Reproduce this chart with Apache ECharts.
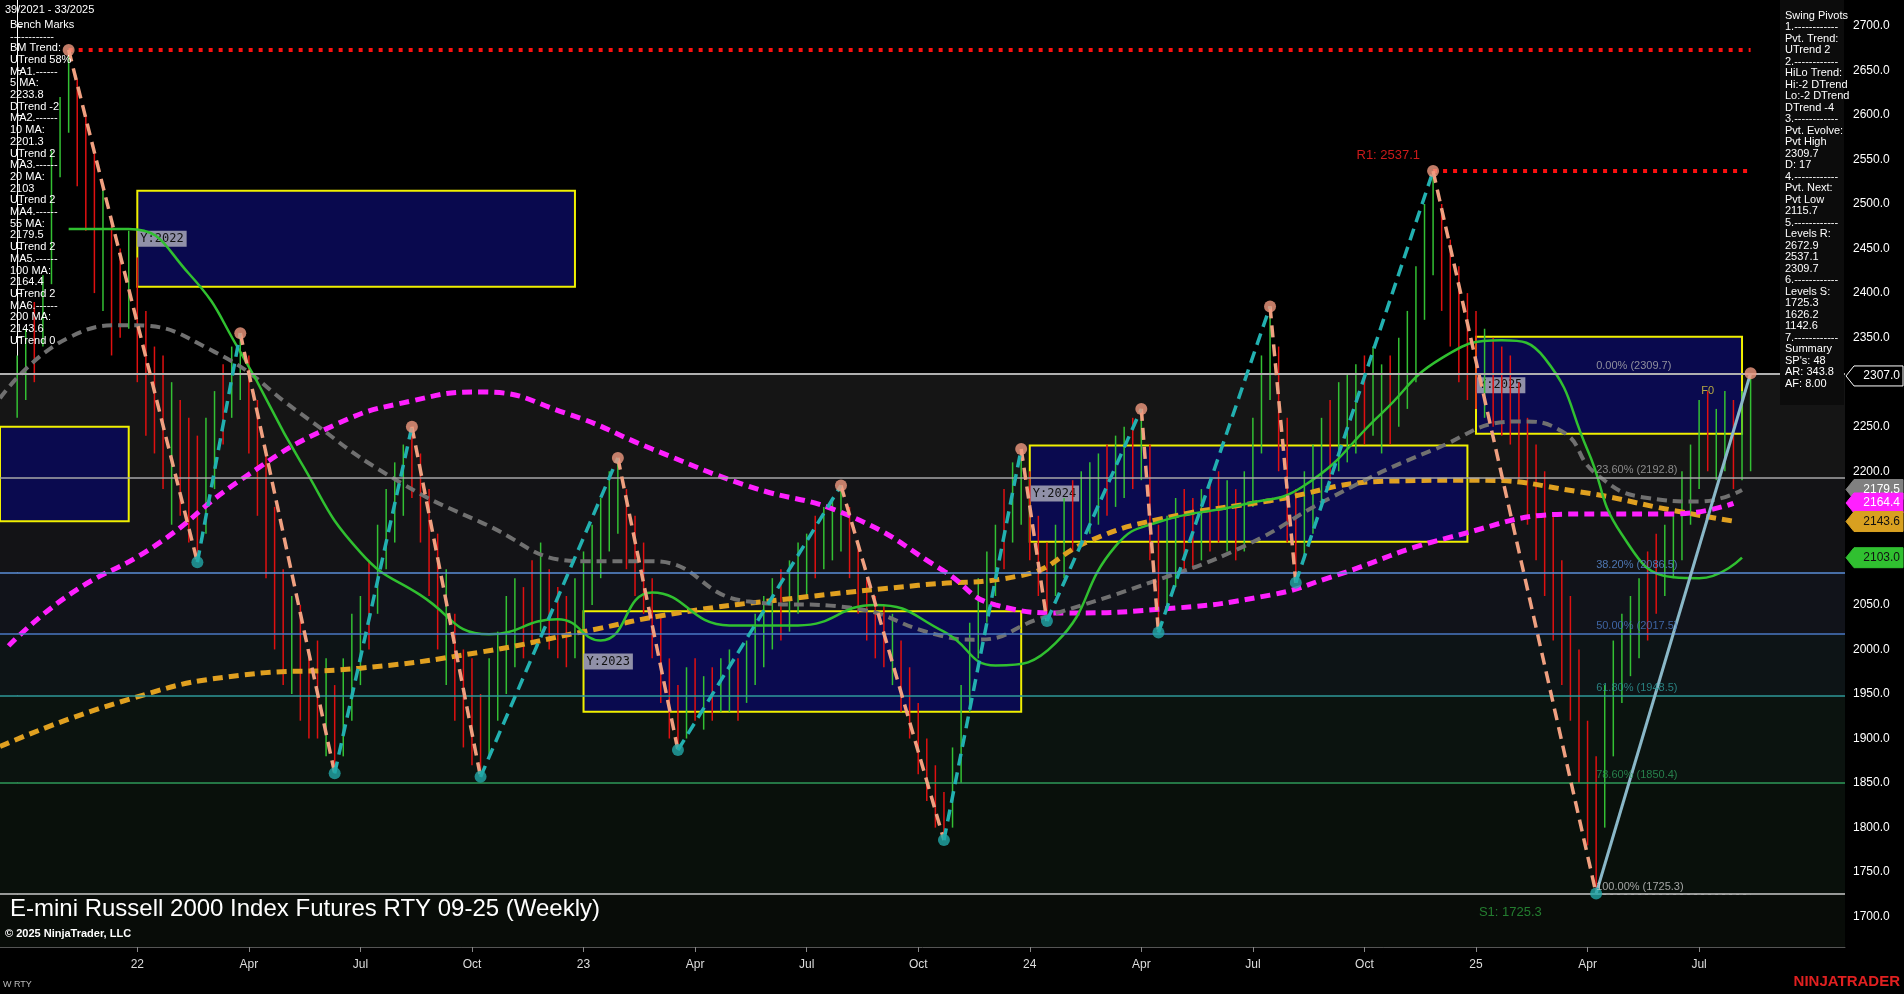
<!DOCTYPE html>
<html><head><meta charset="utf-8">
<script src="https://cdn.jsdelivr.net/npm/echarts@6/dist/echarts.min.js"></script>
<style>html,body{margin:0;background:#000;}#c{width:1904px;height:994px;}</style>
</head><body><div id="c"></div>
<script>
// weekly bars, index 0 = week 39/2021
var highs = [2330,2360,2390,2420,2560,2620,2673,2640,2600,2560,2520,2480,2450,2470,2440,2380,2340,2330,2300,2280,2260,2240,
  2260,2290,2320,2340,2355,2330,2280,2220,2160,2090,2060,2050,2000,2010,1990,1960,
  1990,2040,2060,2100,2140,2180,2210,2230,2250,2220,2180,2130,2090,2040,2000,1990,1950,
  1990,2020,2060,2080,2070,2100,2120,2090,2070,2060,2080,2110,2140,2170,2200,2215,
  2180,2150,2120,2080,2040,1990,1960,
  1980,1990,1970,1980,1990,2000,1990,2010,2040,2060,2080,2090,2100,2120,2130,2150,2160,2170,2184,
  2160,2120,2080,2060,2050,2040,2010,1980,1940,1900,1870,1840,
  1890,1960,2030,2080,2110,2140,2180,2210,2225,2200,2150,2120,
  2140,2170,2190,2200,2210,2220,2230,2240,2250,2260,2270,2230,2140,
  2150,2170,2180,2170,2180,2190,2200,2190,2180,2200,2260,2330,2385,2340,2260,2180,
  2200,2230,2260,2280,2300,2310,2320,2330,2340,2320,2330,2350,2380,2430,2500,2537,
  2500,2460,2430,2400,2380,2360,2350,2340,2330,2300,2260,2230,2200,2150,2100,2060,2000,1920,1880,
  1960,2010,2040,2060,2080,2110,2130,2140,2150,2200,2230,2280,2290,2270,2290,2280,2290,2310];
var lows = [2260,2280,2300,2340,2410,2530,2580,2520,2470,2400,2380,2330,2350,2360,2300,2240,2220,2180,2140,2150,2120,2098,
  2130,2180,2230,2260,2280,2220,2150,2080,2000,1960,1950,1920,1900,1900,1880,1861,
  1880,1920,1960,2000,2040,2090,2120,2150,2170,2120,2060,2000,1960,1920,1890,1870,1857,
  1880,1920,1950,1980,1990,2010,2020,2000,1990,1980,1990,2020,2050,2080,2110,2130,
  2090,2060,2040,1990,1940,1900,1887,
  1900,1920,1910,1920,1930,1930,1920,1940,1960,1980,2000,2010,2020,2040,2060,2080,2090,2100,2110,
  2080,2040,2010,1990,1980,1960,1930,1900,1860,1830,1800,1786,
  1800,1850,1930,1990,2030,2060,2090,2120,2140,2100,2060,2032,
  2060,2080,2110,2120,2130,2140,2150,2160,2170,2180,2190,2100,2019,
  2050,2070,2090,2090,2100,2110,2120,2110,2100,2110,2160,2220,2280,2200,2120,2075,
  2100,2130,2160,2190,2200,2210,2220,2230,2240,2220,2230,2250,2270,2300,2370,2420,
  2380,2340,2300,2280,2270,2260,2250,2240,2230,2190,2140,2100,2060,2010,1960,1920,1850,1780,1726,
  1800,1880,1940,1970,1990,2010,2040,2060,2080,2100,2140,2180,2200,2190,2200,2180,2190,2200];
var barDir = ["uuduuuu","ddduddudddduddd","uuduu","dddddudddud","uuuduuuud","dddudddd","uuuudduddduuuuuu",
  "ddddddd","ududuuduuuuduuuduuu","dddddudddddd","uuuuuuduu","ddd","uuduuuduudu","dd","uuddudduduuuu",
  "ddd","uuuduuuduuduuuuu","ddddduddddddddddddd","uuuuudduuuuuduuduu"].join('');

// swing pivots [week, price, 'H'/'L']
var pivots = [[6,2673,'H'],[21,2098,'L'],[26,2355,'H'],[37,1861,'L'],[46,2250,'H'],[54,1857,'L'],[70,2215,'H'],
  [77,1887,'L'],[96,2184,'H'],[108,1786,'L'],[117,2225,'H'],[120,2032,'L'],[131,2270,'H'],[133,2019,'L'],
  [146,2385,'H'],[149,2075,'L'],[165,2537,'H'],[184,1726,'L'],[202,2310,'H']];

// moving averages read at sample weeks
var ma200 = [[-2,1891],[12,1941],[26,1971],[40,1979],[54,1997],[66,2020],[77,2041],[91,2058],[105,2072],[117,2083],
  [125,2122],[133,2146],[146,2167],[160,2189],[170,2190],[182,2177],[193,2156],[200,2144]];
var ma100 = [[-1,2004],[6,2061],[16,2116],[26,2190],[37,2252],[46,2279],[54,2289],[64,2265],[74,2225],[85,2184],
  [97,2150],[108,2088],[114,2050],[122,2041],[133,2045],[146,2061],[153,2081],[167,2126],[182,2152],[193,2152],[200,2164]];
var ma55 = [[-2,2282],[6,2350],[13,2364],[23,2334],[33,2265],[43,2197],[54,2143],[66,2099],[74,2099],[85,2054],
  [97,2047],[107,2017],[112,2011],[119,2034],[132,2075],[143,2116],[153,2170],[165,2224],[175,2256],[180,2245],
  [184,2197],[190,2170],[196,2166],[201,2179]];
var ma20 = [[6,2472],[13,2472],[20,2422],[26,2334],[33,2211],[40,2109],[47,2061],[55,2017],[63,2034],[68,2010],
  [74,2064],[83,2027],[91,2027],[100,2050],[108,2020],[114,1982],[121,2007],[128,2116],[133,2143],[143,2163],
  [150,2184],[159,2265],[166,2327],[173,2347],[178,2327],[183,2224],[187,2129],[193,2081],[196,2080],[201,2103]];

var fibLevels = [2309.7,2192.8,2086.5,2017.5,1948.5,1850.4,1725.3];
var fibNames = ['0.00%','23.60%','38.20%','50.00%','61.80%','78.60%','100.00%'];
var fibColors = ['#b0b0b0','#a8a8a8','#5b8fd8','#4a78c4','#2f9a9a','#2e9a5a','#c8c8c8'];
var bandColors = ['#151515','#131316','#11131a','#0d1416','#0b130f','#09100b'];

// yearly boxes [startWeek, endWeek, top, bottom, label]
var boxes = [[-2,13,2250,2144,''],[14,65,2515,2407,'Y:2022'],[66,117,2043,1930,'Y:2023'],
  [118,169,2229,2121,'Y:2024'],[170,201,2351,2242,'Y:2025']];

var tickWeeks = [14,27,40,53,66,79,92,105,118,131,144,157,170,183,196];
var tickNames = ['22','Apr','Jul','Oct','23','Apr','Jul','Oct','24','Apr','Jul','Oct','25','Apr','Jul'];
var priceTicks = [1700,1750,1800,1850,1900,1950,2000,2050,2100,2150,2200,2250,2300,2350,2400,2450,2500,2550,2600,2650,2700];

var chart = echarts.init(document.getElementById('c'));
var FONT = 'Liberation Sans';

var barData = highs.map(function (h, i) { return [i, h, lows[i], barDir[i] === 'u' ? 1 : 0]; });
var upLegs = [], downLegs = [];
for (var i = 0; i < pivots.length - 2; i++) {
  var a = pivots[i], b = pivots[i + 1];
  var tgt = a[2] === 'H' ? downLegs : upLegs;
  tgt.push([a[0], a[1]], [b[0], b[1]], '-');
}
var lastA = pivots[pivots.length - 2], lastB = pivots[pivots.length - 1];

var bands = [];
for (var k = 0; k < fibLevels.length - 1; k++) {
  bands.push([{ yAxis: fibLevels[k], itemStyle: { color: bandColors[k] } }, { yAxis: fibLevels[k + 1] }]);
}
bands.push([{ yAxis: 1725.3, itemStyle: { color: '#080c08' } }, { yAxis: 1660 }]);

function maSeries(data, color, dashed, w) {
  return { type: 'line', data: data, smooth: 0.5, symbol: 'none', z: 4,
    lineStyle: { color: color, width: w, type: dashed ? [10, 6] : 'solid' } };
}

chart.setOption({
  backgroundColor: '#000',
  animation: false,
  grid: { left: 0, right: 59, top: 0, bottom: 47 },
  xAxis: { type: 'value', min: -2, max: 213,
    axisLine: { show: true, lineStyle: { color: '#555' } },
    splitLine: { show: false },
    axisTick: { show: true, customValues: tickWeeks, lineStyle: { color: '#888' } },
    axisLabel: { customValues: tickWeeks, color: '#ddd', fontFamily: FONT, fontSize: 12, margin: 12,
      formatter: function (v) { var j = tickWeeks.indexOf(v); return j >= 0 ? tickNames[j] : ''; } } },
  yAxis: { type: 'value', position: 'right', min: 1666, max: 2729,
    axisLine: { show: true, lineStyle: { color: '#fff' } },
    splitLine: { show: false },
    axisTick: { show: true, customValues: priceTicks, length: 5, lineStyle: { color: '#fff' } },
    axisLabel: { customValues: priceTicks, color: '#fff', fontFamily: FONT, fontSize: 12, margin: 8,
      formatter: function (v) { return v.toFixed(1); } } },
  series: [
    { type: 'line', data: [], z: 0, silent: true,
      markArea: { silent: true, data: bands } },
    { type: 'line', data: [], z: 1, silent: true,
      markArea: { silent: true,
        data: boxes.map(function (b) {
          return [{ coord: [b[0], b[2]], name: b[4],
            itemStyle: { color: 'rgba(10,10,85,0.92)', borderColor: '#f0f000', borderWidth: 2 },
            label: { show: !!b[4], position: 'insideLeft', offset: [-4, 0], color: '#111', fontFamily: 'DejaVu Sans Mono',
              fontSize: 12, backgroundColor: '#9090a8', padding: [2, 3] } },
            { coord: [b[1], b[3]] }];
        }) },
      markLine: { silent: true, symbol: 'none', label: { show: false },
        data: fibLevels.map(function (v, j) {
          return { yAxis: v, lineStyle: { color: fibColors[j], width: j === 0 ? 2 : 1.5, type: 'solid' } };
        }) } },
    { type: 'custom', data: barData, z: 3,
      renderItem: function (params, api) {
        var p1 = api.coord([api.value(0), api.value(1)]);
        var p2 = api.coord([api.value(0), api.value(2)]);
        return { type: 'line', shape: { x1: p1[0], y1: p1[1], x2: p2[0], y2: p2[1] },
          style: { stroke: api.value(3) ? '#33c033' : '#e01010', lineWidth: 1.5 } };
      } },
    maSeries(ma200, '#e0a020', true, 5),
    maSeries(ma100, '#ff20ff', true, 5),
    maSeries(ma55, '#707070', true, 4),
    maSeries(ma20, '#30c030', false, 2.5),
    { type: 'line', data: downLegs, symbol: 'none', z: 5, connectNulls: false,
      lineStyle: { color: '#f0a080', width: 3.5, type: [12, 7] } },
    { type: 'line', data: upLegs, symbol: 'none', z: 5, connectNulls: false,
      lineStyle: { color: '#22b0b0', width: 3.5, type: [12, 7] } },
    { type: 'line', data: [[lastA[0], lastA[1]], [lastB[0], lastB[1]]], symbol: 'none', z: 5,
      lineStyle: { color: '#8ab8c8', width: 3 } },
    { type: 'scatter', z: 6, symbolSize: 12,
      data: pivots.map(function (p) {
        return { value: [p[0], p[1]], itemStyle: { color: p[2] === 'H' ? '#f09a80' : '#22a8a8' } };
      }) },
    { type: 'line', data: [], z: 4, silent: true,
      markLine: { silent: true, symbol: 'none',
        data: [
          [{ coord: [6, 2672.9], lineStyle: { color: '#ff1010', width: 4, type: [4, 6] } }, { coord: [202, 2672.9] }],
          [{ coord: [165, 2537.1], lineStyle: { color: '#ff1010', width: 4, type: [4, 6] } }, { coord: [202, 2537.1] }],
          [{ coord: [184, 1725.3], lineStyle: { color: '#aaa', width: 1, type: [3, 4] } }, { coord: [202, 1725.3] }]
        ], label: { show: false } } },
    { type: 'scatter', z: 7, symbolSize: 0, silent: true,
      data: fibLevels.map(function (v, j) {
        return { value: [184, v], label: { show: true, position: 'top', distance: 2, align: 'left',
          formatter: fibNames[j] + ' (' + v.toFixed(1) + ')', color: fibColors[j], fontFamily: FONT, fontSize: 11 } };
      }).concat([
        { value: [165, 2537.1], label: { show: true, position: 'left', offset: [-8, -16], formatter: 'R1: 2537.1',
          color: '#ff2020', fontFamily: FONT, fontSize: 13 } },
        { value: [174, 1725.3], label: { show: true, position: 'bottom', distance: 12, formatter: 'S1: 1725.3',
          color: '#2a9a3a', fontFamily: FONT, fontSize: 13 } },
        { value: [197, 2290], label: { show: true, position: 'inside', formatter: 'F0',
          color: '#e0d040', fontFamily: FONT, fontSize: 11 } }
      ]) }
  ]
});

var benchText = ['Bench Marks','------------','BM Trend:','UTrend 58%','MA1.------','5 MA:','2233.8','DTrend -2',
  'MA2.------','10 MA:','2201.3','UTrend 2','MA3.------','20 MA:','2103','UTrend 2','MA4.------','55 MA:','2179.5',
  'UTrend 2','MA5.------','100 MA:','2164.4','UTrend 2','MA6.------','200 MA:','2143.6','UTrend 0'];
var swingText = ['Swing Pivots','1.------------','Pvt. Trend:','UTrend 2','2.------------','HiLo Trend:','Hi:-2 DTrend',
  'Lo:-2 DTrend','DTrend -4','3.------------','Pvt. Evolve:','Pvt High','2309.7','D: 17','4.------------','Pvt. Next:',
  'Pvt Low','2115.7','5.------------','Levels R:','2672.9','2537.1','2309.7','6.------------','Levels S:','1725.3',
  '1626.2','1142.6','7.------------','Summary',"SP's: 48",'AR: 343.8','AF: 8.00'];
var tags = [[2307.0,'#000','#fff','#fff'],[2179.5,'#808080','#fff','#808080'],[2164.4,'#ff20ff','#fff','#ff20ff'],
  [2143.6,'#d8a020','#111','#d8a020'],[2103.0,'#30c030','#111','#30c030']];

var gx = chart.convertToPixel({ gridIndex: 0 }, [213, 2000])[0];
var g = [
  { type: 'rect', shape: { x: 1780, y: 0, width: gx - 1781, height: 405 }, style: { fill: '#0c0c0c' }, z: 10 },
  { type: 'text', x: 5, y: 4, style: { text: '39/2021 - 33/2025', fill: '#fff', font: '11px ' + FONT }, z: 11 },
  { type: 'text', x: 10, y: 19, style: { text: benchText.join('\n'), fill: '#fff', font: '11px ' + FONT, lineHeight: 11.7 }, z: 11 },
  { type: 'text', x: 1785, y: 10, style: { text: swingText.join('\n'), fill: '#fff', font: '11px ' + FONT, lineHeight: 11.5 }, z: 11 },
  { type: 'text', x: 10, y: 897, style: { text: 'E-mini Russell 2000 Index Futures RTY 09-25 (Weekly)', fill: '#fff', font: '24px ' + FONT }, z: 11 },
  { type: 'text', x: 5, y: 928, style: { text: '\u00a9 2025 NinjaTrader, LLC', fill: '#fff', font: 'bold 11px ' + FONT }, z: 11 },
  { type: 'text', x: 3, y: 980, style: { text: 'W RTY', fill: '#bbb', font: '9px ' + FONT }, z: 11 },
  { type: 'text', x: 1900, y: 974, style: { text: 'NINJATRADER', fill: '#e02020', font: 'bold 15px ' + FONT, align: 'right' }, z: 11 }
];
tags.forEach(function (t) {
  var y = chart.convertToPixel({ gridIndex: 0 }, [0, t[0]])[1];
  g.push({ type: 'polygon', z: 12, shape: { points: [[gx + 1, y], [gx + 9, y - 10], [gx + 58, y - 10], [gx + 58, y + 10], [gx + 9, y + 10]] },
    style: { fill: t[1], stroke: t[3], lineWidth: 1 } });
  g.push({ type: 'text', z: 13, x: gx + 55, y: y, style: { text: t[0].toFixed(1), fill: t[2], font: '12px ' + FONT, align: 'right', verticalAlign: 'middle' } });
});
chart.setOption({ graphic: g });
</script>
</body></html>
